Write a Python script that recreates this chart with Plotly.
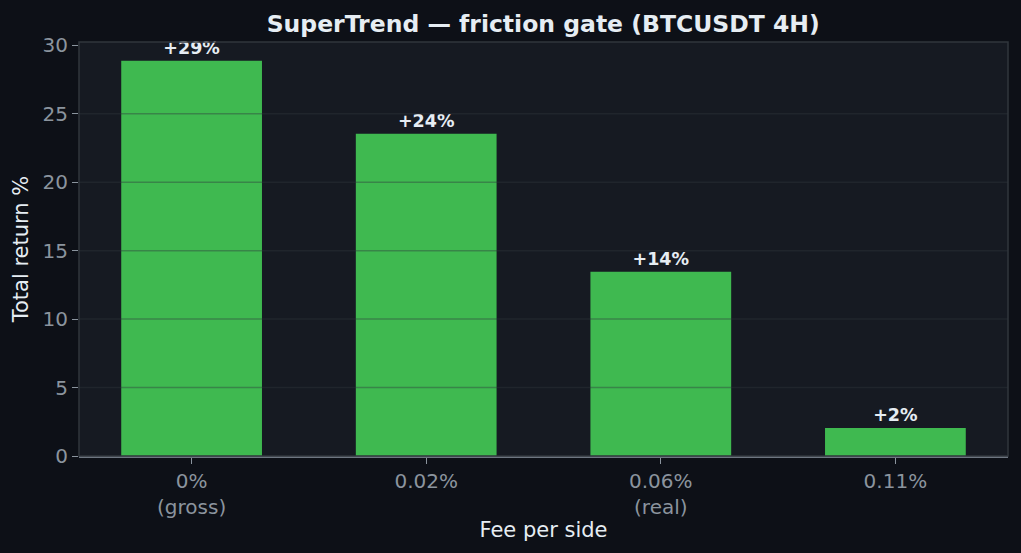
import plotly.graph_objects as go

# fee per side and the resulting total return (%)
fees = ['0%<br>(gross)', '0.02%', '0.06%<br>(real)', '0.11%']
returns = [28.87, 23.54, 13.45, 2.05]
labels = ['+29%', '+24%', '+14%', '+2%']
y_ticks = [0, 5, 10, 15, 20, 25, 30]

FIG_BG = '#0d1017'
PLOT_BG = '#161a22'
GREEN = '#3fb950'
FRAME = '#30363d'
MUTED = '#8b949e'
TEXT = '#e6edf3'
FONT = 'DejaVu Sans'

fig = go.Figure(go.Bar(
    x=list(range(len(fees))), y=returns, width=0.6,
    marker=dict(color=GREEN, line=dict(width=0)),
    text=labels, textposition='outside', cliponaxis=False,
    textfont=dict(family=FONT, size=17.5, color=TEXT, weight='bold'),
))

# matplotlib-style grid drawn over the bars (faint on the dark background, darker on green)
for tick in y_ticks[1:-1]:
    fig.add_shape(type='line', xref='paper', yref='y', x0=0, x1=1, y0=tick, y1=tick,
                  line=dict(color='rgba(48,54,61,0.4)', width=1.5), layer='above')
# frame around the axes
fig.add_shape(type='rect', xref='paper', yref='paper', x0=0, x1=1, y0=0, y1=1,
              line=dict(color=FRAME, width=1.5), layer='above')

fig.update_layout(
    width=1021, height=553,
    paper_bgcolor=FIG_BG, plot_bgcolor=PLOT_BG,
    margin=dict(l=79, r=13, t=42, b=97),
    showlegend=False,
    font=dict(family=FONT, color=TEXT),
    title=dict(text='<b>SuperTrend — friction gate (BTCUSDT 4H)</b>', x=0.532, xanchor='center',
               y=0.957, yanchor='middle', font=dict(family=FONT, size=23.5, color=TEXT)),
    xaxis=dict(
        range=[-0.48, 3.48], tickmode='array', tickvals=list(range(len(fees))), ticktext=fees,
        showgrid=False, zeroline=False, showline=True, linecolor='#6e7681', linewidth=1.5,
        ticks='outside', ticklen=6, tickcolor=MUTED, tickwidth=1.2,
        tickfont=dict(family=FONT, size=20, color=MUTED),
        title=dict(text='Fee per side', font=dict(family=FONT, size=21, color=TEXT), standoff=5),
    ),
    yaxis=dict(
        range=[0, 30.24], tickmode='array', tickvals=y_ticks,
        showgrid=False, zeroline=False, showline=False,
        ticks='outside', ticklen=6, tickcolor=MUTED, tickwidth=1.2,
        tickfont=dict(family=FONT, size=20, color=MUTED),
        title=dict(text='Total return %', font=dict(family=FONT, size=21, color=TEXT), standoff=8),
    ),
)

fig.write_html('out.html', config={'displayModeBar': False},
               post_script="document.body.style.margin='0';")
